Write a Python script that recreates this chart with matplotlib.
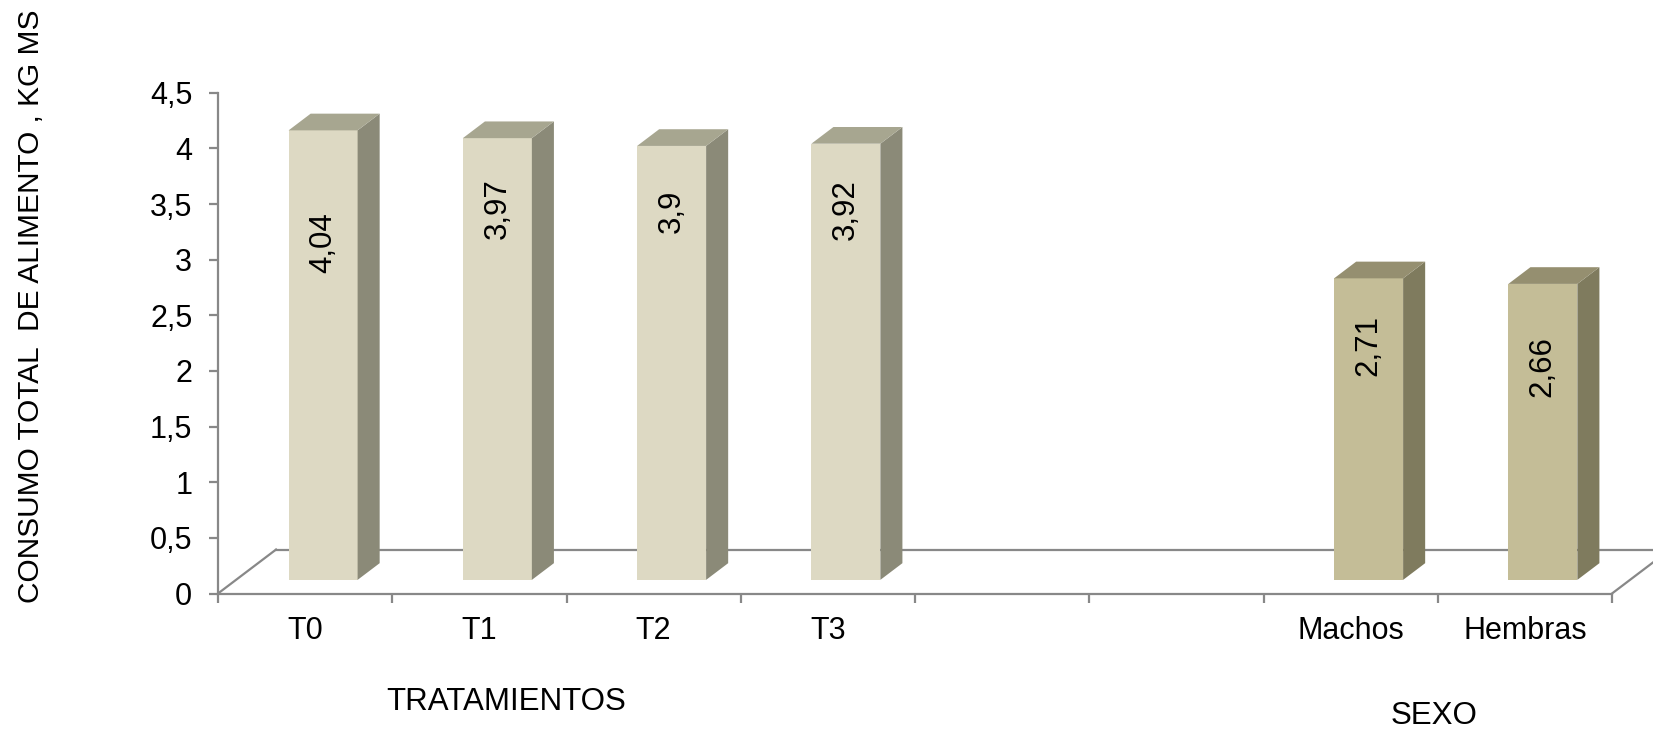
import matplotlib.pyplot as plt
from matplotlib.patches import Polygon
from matplotlib.ticker import FuncFormatter

plt.rcParams['font.family'] = ['Liberation Sans', 'DejaVu Sans']

# -----------------------------------------------------------------------------
# Data
# -----------------------------------------------------------------------------
TRAT_LABELS = ['T0', 'T1', 'T2', 'T3']
TRAT_VALUES = [4.04, 3.97, 3.9, 3.92]
SEXO_LABELS = ['Machos', 'Hembras']
SEXO_VALUES = [2.71, 2.66]

# slots on the category axis (two empty slots between the groups)
TRAT_SLOTS = [0, 1, 2, 3]
SEXO_SLOTS = [6, 7]
N_SLOTS = 8

# how far below the bar top each value label sits (value units)
TRAT_LABEL_DROP = [1.01, 0.63, 0.59, 0.59]
SEXO_LABEL_DROP = [0.60, 0.74]

# colours: front, side, top
TRAT_COLORS = ('#DDD9C3', '#8B8A78', '#A7A690')
SEXO_COLORS = ('#C4BD97', '#7F7B5E', '#958F70')
AXIS_COLOR = '#888888'

# oblique depth of the floor (category units, value units)
DX, DY = 0.333, 0.395
D_FRONT, D_BACK = 0.31, 0.69
BAR_W = 0.396

fig = plt.figure(figsize=(16.53, 7.31), dpi=100)
ax = fig.add_axes([218 / 1653, 137.5 / 731, 1394 / 1653, 500.7 / 731])
ax.set_xlim(0, N_SLOTS)
ax.set_ylim(0, 4.5)

for s in ['top', 'right']:
    ax.spines[s].set_visible(False)
for s in ['left', 'bottom']:
    ax.spines[s].set_color(AXIS_COLOR)
    ax.spines[s].set_linewidth(1.6)

# floor outline
floor_kw = dict(color=AXIS_COLOR, lw=1.6, clip_on=False, zorder=1)
ax.plot([0, DX], [0, DY], **floor_kw)
ax.plot([DX, N_SLOTS + DX], [DY, DY], **floor_kw)
ax.plot([N_SLOTS, N_SLOTS + DX], [0, DY], **floor_kw)


def draw_bar(slot, value, colors, drop):
    front, side, top = colors
    x0 = slot + 0.5 - BAR_W / 2 + D_FRONT * DX
    x1 = x0 + BAR_W
    y0 = D_FRONT * DY
    y1 = y0 + value
    ddx = (D_BACK - D_FRONT) * DX
    ddy = (D_BACK - D_FRONT) * DY
    ax.add_patch(Polygon([(x0, y0), (x1, y0), (x1, y1), (x0, y1)],
                         closed=True, fc=front, ec='none', zorder=3, clip_on=False))
    ax.add_patch(Polygon([(x1, y0), (x1 + ddx, y0 + ddy), (x1 + ddx, y1 + ddy), (x1, y1)],
                         closed=True, fc=side, ec='none', zorder=3, clip_on=False))
    ax.add_patch(Polygon([(x0, y1), (x1, y1), (x1 + ddx, y1 + ddy), (x0 + ddx, y1 + ddy)],
                         closed=True, fc=top, ec='none', zorder=3, clip_on=False))
    ax.text((x0 + x1) / 2, y1 - drop, f"{value:g}".replace('.', ','),
            rotation=90, ha='center', va='center', fontsize=22.5, color='black', zorder=4)


for slot, v, d in zip(TRAT_SLOTS, TRAT_VALUES, TRAT_LABEL_DROP):
    draw_bar(slot, v, TRAT_COLORS, d)
for slot, v, d in zip(SEXO_SLOTS, SEXO_VALUES, SEXO_LABEL_DROP):
    draw_bar(slot, v, SEXO_COLORS, d)

# y axis
ax.set_yticks([i * 0.5 for i in range(10)])
ax.yaxis.set_major_formatter(FuncFormatter(lambda v, _: f"{v:g}".replace('.', ',')))
ax.tick_params(axis='y', length=6.5, width=1.6, color=AXIS_COLOR, pad=12, labelsize=22)

# x axis: tick marks on slot boundaries, labels centred in slots
ax.set_xticks(range(N_SLOTS + 1))
ax.set_xticklabels([])
ax.tick_params(axis='x', which='major', length=6.5, width=1.6, color=AXIS_COLOR)
ax.set_xticks([s + 0.5 for s in TRAT_SLOTS + SEXO_SLOTS], minor=True)
ax.set_xticklabels(TRAT_LABELS + SEXO_LABELS, minor=True)
ax.tick_params(axis='x', which='minor', length=0, pad=16, labelsize=22)

fig.text(506 / 1653, 1 - 702 / 731, 'TRATAMIENTOS', ha='center', va='center', fontsize=22.5)
fig.text(1434 / 1653, 1 - 716 / 731, 'SEXO', ha='center', va='center', fontsize=22.5)
fig.text(31 / 1653, 1 - 306 / 731, 'CONSUMO TOTAL  DE ALIMENTO , KG MS',
         rotation=90, ha='center', va='center', fontsize=21.5)

fig.savefig('out.png', dpi=100, facecolor='white')
